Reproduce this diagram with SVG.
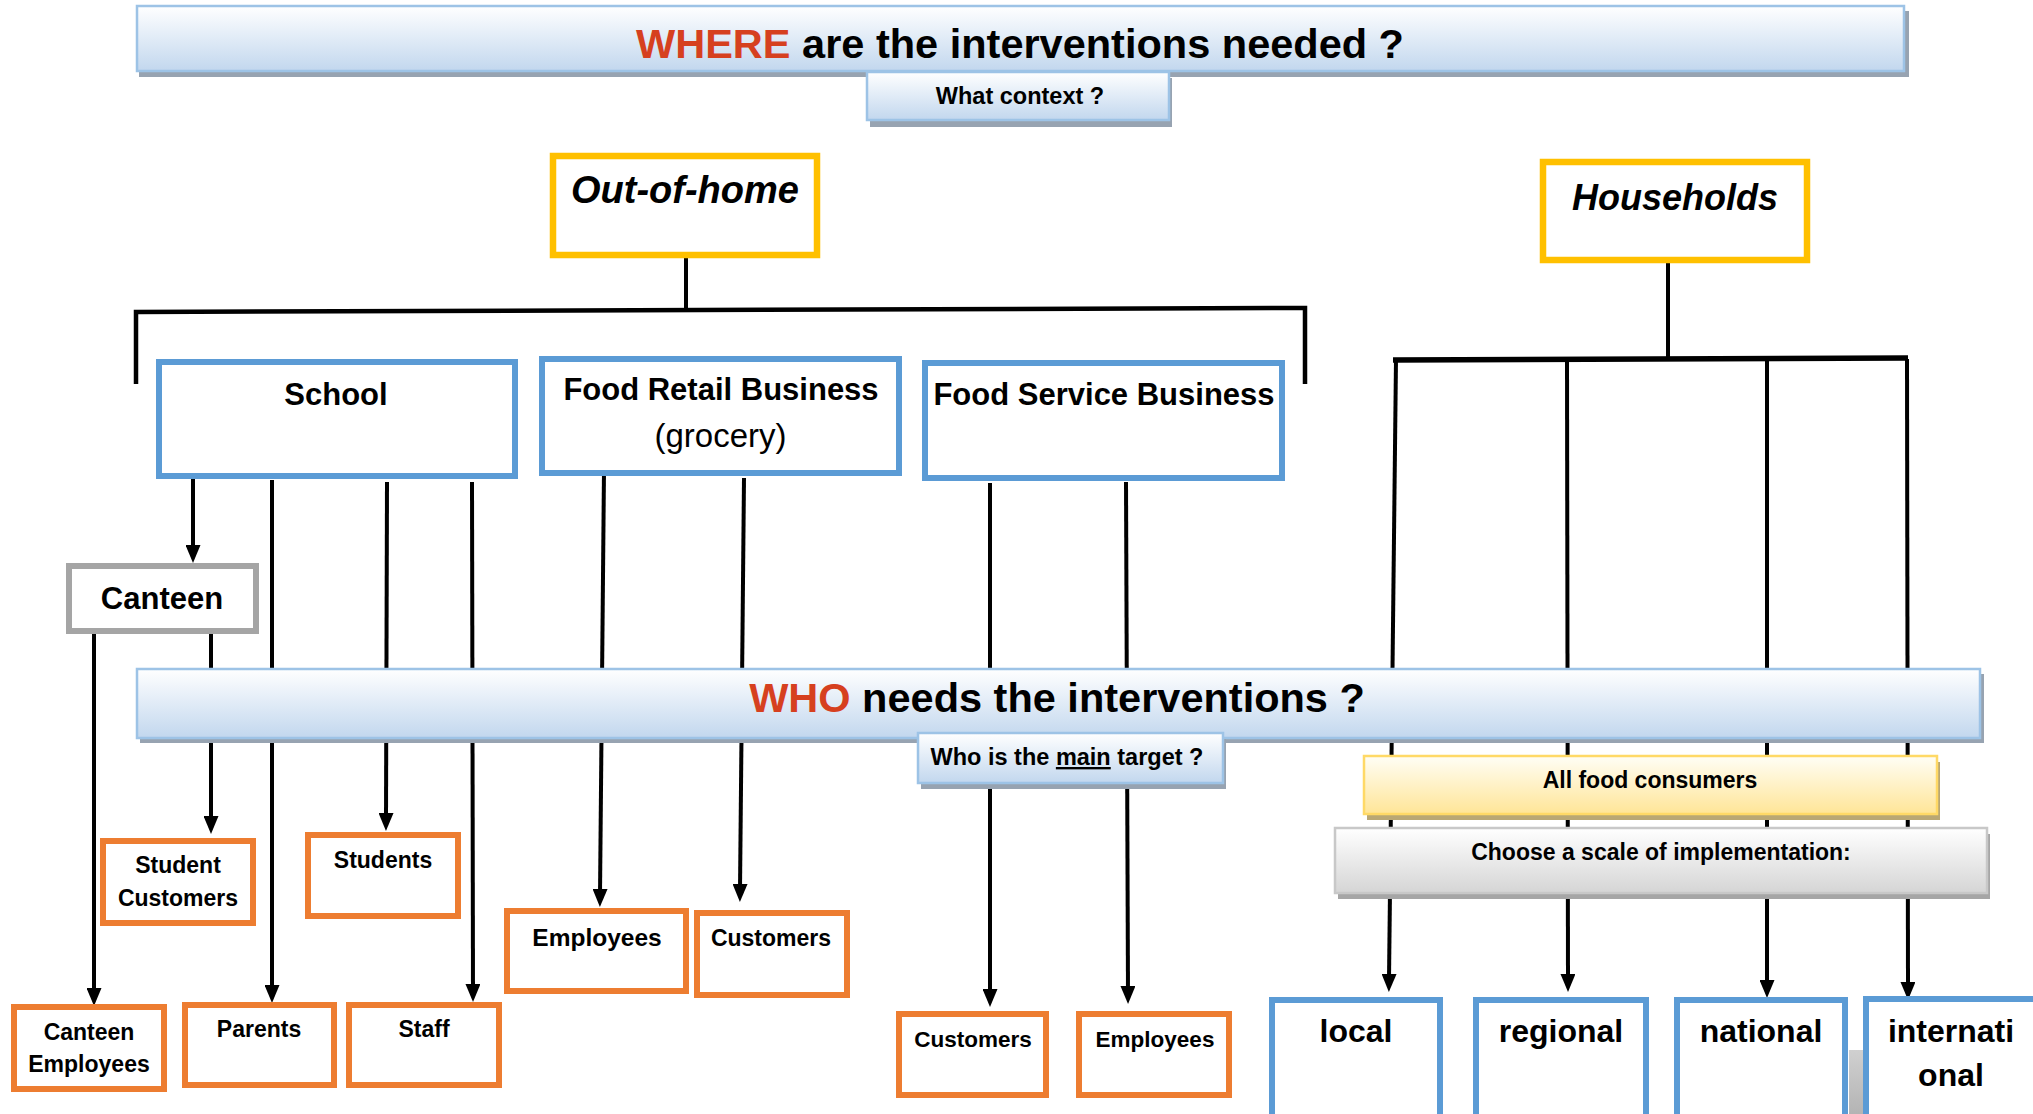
<svg xmlns="http://www.w3.org/2000/svg" width="2033" height="1114" viewBox="0 0 2033 1114">
<defs>
<style>
.t{font-family:"Liberation Sans",Arial,sans-serif;font-weight:bold;text-anchor:middle;fill:#000}
.n{font-weight:normal}
.i{font-style:italic}
.red{fill:#D6401F}
.blue{fill:#fff;stroke:#5B9BD5;stroke-width:6}
.orange{fill:#fff;stroke:#ED7D31;stroke-width:6}
.yellow{fill:#fff;stroke:#FFC000;stroke-width:6.5}
.gray{fill:#fff;stroke:#A5A5A5;stroke-width:6}
.ban{fill:url(#gBlue);stroke:#9DC3E6;stroke-width:2.5}
.banSh{fill:#97A3B1}
.yb{fill:url(#gYellow);stroke:#FFD966;stroke-width:2.5}
.ybSh{fill:#B9A774}
.gb{fill:url(#gGray);stroke:#C8C8C8;stroke-width:2.5}
.gbSh{fill:#A6A6A6}
.ln{stroke:#000;stroke-width:4;fill:none}
.br{stroke:#000;stroke-width:4.5;fill:none}
.ar{marker-end:url(#ah)}
</style>
<linearGradient id="gBlue" x1="0" y1="0" x2="0" y2="1">
<stop offset="0" stop-color="#FFFFFF"/><stop offset="1" stop-color="#C2D7EE"/>
</linearGradient>
<linearGradient id="gYellow" x1="0" y1="0" x2="0" y2="1">
<stop offset="0" stop-color="#FFFEF6"/><stop offset="1" stop-color="#FFE597"/>
</linearGradient>
<linearGradient id="gGray" x1="0" y1="0" x2="0" y2="1">
<stop offset="0" stop-color="#FFFFFF"/><stop offset="1" stop-color="#D5D5D5"/>
</linearGradient>
<linearGradient id="gStripe" x1="0" y1="0" x2="0" y2="1">
<stop offset="0" stop-color="#D0D0D0"/><stop offset="1" stop-color="#B4B4B4"/>
</linearGradient>
<marker id="ah" viewBox="0 0 18 15" markerUnits="userSpaceOnUse" markerWidth="18" markerHeight="15" refX="6" refY="7.5" orient="auto">
<path d="M0,0 L18,7.5 L0,15 z" fill="#000"/>
</marker>
</defs>
<rect width="2033" height="1114" fill="#fff"/>

<g id="connectors">
<line class="ln" x1="686" y1="258" x2="686" y2="311"/>
<polyline class="br" points="136,384 136,312 1305,308 1305,384"/>
<line class="ln" x1="1668" y1="263" x2="1668" y2="359"/>
<line class="br" x1="1393" y1="360" x2="1908" y2="358" style="stroke-width:5.5"/>
<line class="ln ar" x1="193" y1="477" x2="193" y2="551"/>
<line class="ln ar" x1="211" y1="634" x2="211" y2="822"/>
<line class="ln ar" x1="94" y1="634" x2="94" y2="994"/>
<line class="ln ar" x1="272" y1="480" x2="272" y2="991"/>
<line class="ln ar" x1="387" y1="482" x2="386" y2="819"/>
<line class="ln ar" x1="472" y1="482" x2="473" y2="990"/>
<line class="ln ar" x1="604" y1="470" x2="600" y2="895"/>
<line class="ln ar" x1="744" y1="478" x2="740" y2="890"/>
<line class="ln ar" x1="990" y1="483" x2="990" y2="995"/>
<line class="ln ar" x1="1126" y1="482" x2="1128" y2="992"/>
<line class="ln ar" x1="1396" y1="359" x2="1389" y2="980"/>
<line class="ln ar" x1="1567" y1="359" x2="1568" y2="980"/>
<line class="ln ar" x1="1767" y1="359" x2="1767" y2="986"/>
<line class="ln ar" x1="1907" y1="359" x2="1908" y2="988"/>
</g>

<g id="where-banner">
<rect class="banSh" x="139" y="11" width="1770" height="66"/>
<rect class="ban" x="137" y="6" width="1767" height="65"/>
<text class="t" x="1020" y="58" font-size="41.5"><tspan class="red">WHERE</tspan> are the interventions needed ?</text>
</g>
<g id="what-context">
<rect class="banSh" x="870" y="78" width="302" height="49"/>
<rect class="ban" x="867" y="72" width="302" height="48"/>
<text class="t" x="1020" y="104" font-size="23.5">What context ?</text>
</g>

<g id="out-of-home">
<rect class="yellow" x="553" y="156" width="264" height="99"/>
<text class="t i" x="685" y="203" font-size="38">Out-of-home</text>
</g>
<g id="households">
<rect class="yellow" x="1543" y="162" width="264" height="98"/>
<text class="t i" x="1675" y="210" font-size="36">Households</text>
</g>

<g id="school">
<rect class="blue" x="159" y="362" width="356" height="114"/>
<text class="t" x="336" y="405" font-size="31">School</text>
</g>
<g id="food-retail">
<rect class="blue" x="542" y="359" width="357" height="114"/>
<text class="t" x="721" y="400" font-size="31">Food Retail Business</text>
<text class="t n" x="720.5" y="447" font-size="33">(grocery)</text>
</g>
<g id="food-service">
<rect class="blue" x="925" y="363" width="357" height="115"/>
<text class="t" x="1104" y="405" font-size="31">Food Service Business</text>
</g>

<g id="canteen">
<rect class="gray" x="69" y="566" width="187" height="65"/>
<text class="t" x="162" y="609" font-size="31">Canteen</text>
</g>

<g id="who-banner">
<rect class="banSh" x="140" y="674" width="1844" height="69"/>
<rect class="ban" x="137" y="669" width="1843" height="69"/>
<text class="t" x="1057" y="712" font-size="41.5"><tspan class="red">WHO</tspan> needs the interventions ?</text>
</g>
<g id="main-target">
<rect class="banSh" x="921" y="739" width="305" height="50"/>
<rect class="ban" x="918" y="733" width="305" height="50"/>
<text class="t" x="1067" y="765" font-size="23.5">Who is the <tspan text-decoration="underline">main</tspan> target ?</text>
</g>

<g id="all-food-consumers">
<rect class="ybSh" x="1367" y="762" width="573" height="58"/>
<rect class="yb" x="1364" y="756" width="573" height="58"/>
<text class="t" x="1650" y="788" font-size="23">All food consumers</text>
</g>
<g id="choose-scale">
<rect class="gbSh" x="1338" y="834" width="652" height="65"/>
<rect class="gb" x="1335" y="828" width="652" height="65"/>
<text class="t" x="1661" y="860" font-size="23">Choose a scale of implementation:</text>
</g>

<g id="student-customers">
<rect class="orange" x="103" y="841" width="150" height="82"/>
<text class="t" x="178" y="873" font-size="23">Student</text>
<text class="t" x="178" y="906" font-size="23">Customers</text>
</g>
<g id="students">
<rect class="orange" x="308" y="835" width="150" height="81"/>
<text class="t" x="383" y="868" font-size="23">Students</text>
</g>
<g id="retail-employees">
<rect class="orange" x="507" y="911" width="179" height="80"/>
<text class="t" x="597" y="946" font-size="24.5">Employees</text>
</g>
<g id="retail-customers">
<rect class="orange" x="697" y="913" width="150" height="82"/>
<text class="t" x="771" y="946" font-size="23">Customers</text>
</g>
<g id="canteen-employees">
<rect class="orange" x="14" y="1007" width="150" height="82"/>
<text class="t" x="89" y="1040" font-size="23">Canteen</text>
<text class="t" x="89" y="1072" font-size="23">Employees</text>
</g>
<g id="parents">
<rect class="orange" x="185" y="1005" width="149" height="80"/>
<text class="t" x="259" y="1037" font-size="23">Parents</text>
</g>
<g id="staff">
<rect class="orange" x="349" y="1005" width="150" height="80"/>
<text class="t" x="424" y="1037" font-size="23">Staff</text>
</g>
<g id="service-customers">
<rect class="orange" x="899" y="1014" width="147" height="81"/>
<text class="t" x="973" y="1047" font-size="22.5">Customers</text>
</g>
<g id="service-employees">
<rect class="orange" x="1079" y="1014" width="150" height="81"/>
<text class="t" x="1155" y="1047" font-size="22.5">Employees</text>
</g>

<g id="local">
<rect class="blue" x="1272" y="1000" width="168" height="130"/>
<text class="t" x="1356" y="1042" font-size="32">local</text>
</g>
<g id="regional">
<rect class="blue" x="1476" y="1000" width="170" height="130"/>
<text class="t" x="1561" y="1042" font-size="32">regional</text>
</g>
<g id="national">
<rect class="blue" x="1677" y="1000" width="168" height="130"/>
<text class="t" x="1761" y="1042" font-size="32">national</text>
</g>
<rect x="1849" y="1050" width="14" height="64" fill="url(#gStripe)"/>
<g id="international">
<rect class="blue" x="1866" y="999" width="175" height="130"/>
<text class="t" x="1951" y="1042" font-size="32">internati</text>
<text class="t" x="1951" y="1086" font-size="32">onal</text>
</g>
</svg>
